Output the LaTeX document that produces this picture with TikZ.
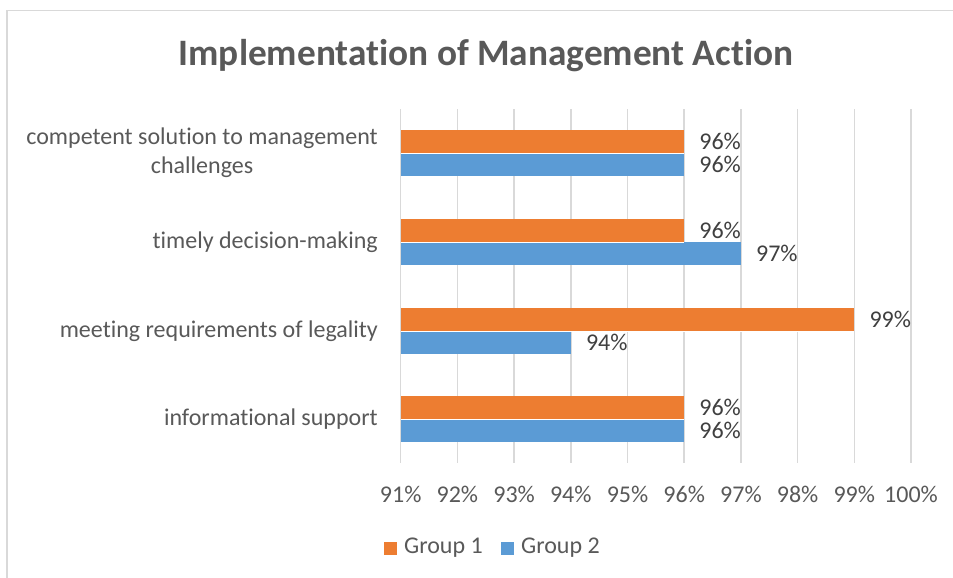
\documentclass[tikz,border=0pt]{standalone}
\usepackage{fontspec}
\setmainfont[Ligatures={NoCommon}]{Carlito}
\definecolor{orng}{HTML}{ED7D31}
\definecolor{blu}{HTML}{5B9BD5}
\definecolor{grd}{HTML}{D9D9D9}
\definecolor{txt}{HTML}{595959}
\definecolor{lbl}{HTML}{404040}
\begin{document}
\begin{tikzpicture}[x=1pt,y=-1pt,
  lab/.style={font=\fontsize{24}{28}\selectfont, text=txt, inner sep=0pt},
  val/.style={font=\fontsize{24}{28}\selectfont, text=lbl, inner sep=0pt, anchor=west},
  cat/.style={font=\fontsize{24}{29}\selectfont, text=txt, inner sep=0pt, anchor=east, align=center},
  g1/.style={fill=orng, draw=none},
  g2/.style={fill=blu, draw=none}]
\useasboundingbox (0,0) rectangle (953,578);
\fill[white] (0,0) rectangle (953,578);
\draw[grd, line width=1.2pt] (7,590) -- (7,10.5) -- (960,10.5);
\node[font=\bfseries\fontsize{37.3}{40}\selectfont, text=txt] (title) at (486,56) {Implementation of Management Action};
% gridlines and ticks
\foreach \i in {0,...,9}{
  \pgfmathsetmacro{\xx}{400.7+56.7*\i}
  \pgfmathtruncatemacro{\pc}{91+\i}
  \draw[grd, line width=1.5pt] (\xx,109) -- (\xx,463);
  \node[lab] (tick\i) at (\xx,494) {\pc\%};
}
% bars: (category center y, orange value, blue value)
\foreach \cy/\a/\b/\n in {153/96/96/1, 242/96/97/2, 331/99/94/3, 419/96/96/4}{
  \pgfmathsetmacro{\xa}{400.7+56.7*(\a-91)}
  \pgfmathsetmacro{\xb}{400.7+56.7*(\b-91)}
  \fill[g1] (400.7,\cy-23) rectangle (\xa,\cy);
  \fill[g2] (400.7,\cy) rectangle (\xb,\cy+23);
  \draw[white, line width=0.5pt] (400.7,\cy) -- (\xa,\cy);
  \node[val] (va\n) at (\xa+15,\cy-11.5) {\a\%};
  \node[val] (vb\n) at (\xb+15,\cy+11.5) {\b\%};
}
\node[cat] (c1) at (378,153) {competent solution to management\\challenges};
\node[cat] (c2) at (378,242) {timely decision-making};
\node[cat] (c3) at (378,331) {meeting requirements of legality};
\node[cat] (c4) at (378,419) {informational support};
% legend
\fill[orng] (384,541.5) rectangle (397,554.5);
\node[lab, anchor=west] (l1) at (404,548) {Group 1};
\fill[blu] (501,541.5) rectangle (514,554.5);
\node[lab, anchor=west] (l2) at (521,548) {Group 2};
\end{tikzpicture}
\end{document}
